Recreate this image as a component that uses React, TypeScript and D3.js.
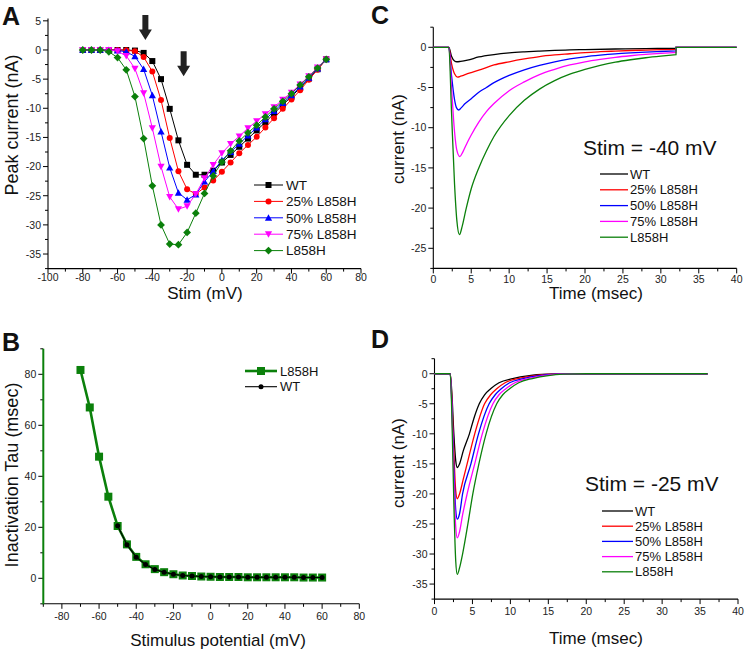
import React from 'react';
import * as d3 from 'd3';

const FONT = "'Liberation Sans', Arial, Helvetica, sans-serif";

// ---------- shared series info ----------
const seriesNames = ['WT', '25% L858H', '50% L858H', '75% L858H', 'L858H'];
const seriesColors = ['#000000', '#ff0000', '#0000ff', '#ff00ff', '#0b800b'];
const markerShapes = ['square', 'circle', 'triangle', 'triangleDown', 'diamond'];

// ---------- Panel A : peak current vs stim ----------
const stimA = [-80, -75, -70, -65, -60, -55, -50, -45, -40, -35, -30, -25, -20, -15, -10, -5, 0, 5, 10, 15, 20, 25, 30, 35, 40, 45, 50, 55, 60];
const peakWT = [0, 0, 0, 0, 0, 0, -0.1, -0.5, -1.9, -5.0, -10.1, -15.5, -19.7, -21.4, -21.4, -20.7, -19.3, -18.0, -16.6, -15.2, -13.8, -12.4, -10.9, -9.4, -8.0, -6.5, -4.9, -3.3, -1.6];
const peak25 = [0, 0, 0, 0, 0, -0.05, -0.2, -1.2, -3.7, -8.6, -15.1, -20.8, -23.9, -24.7, -23.6, -22.4, -20.9, -19.3, -17.7, -16.3, -14.9, -13.3, -11.7, -10.1, -8.5, -6.9, -5.1, -3.4, -1.6];
const peak50 = [0, 0, 0, 0, -0.1, -0.3, -1.1, -3.3, -7.8, -14.0, -20.2, -24.5, -25.7, -24.8, -22.6, -20.8, -18.9, -17.5, -16.1, -14.7, -13.3, -11.9, -10.5, -9.1, -7.8, -6.3, -4.8, -3.2, -1.6];
const peak75 = [0, 0, 0, 0, -0.2, -1.0, -3.2, -7.4, -13.4, -20.0, -25.2, -27.3, -26.8, -24.7, -22.0, -19.7, -17.7, -16.1, -14.8, -13.4, -12.2, -11.0, -9.8, -8.5, -7.3, -5.9, -4.5, -3.0, -1.6];
const peakL858H = [0, 0, 0, -0.3, -1.3, -3.4, -8.0, -15.2, -23.3, -30.0, -33.3, -33.4, -31.3, -28.0, -24.6, -21.6, -19.2, -17.3, -15.6, -14.2, -12.9, -11.5, -10.1, -8.8, -7.5, -6.0, -4.6, -3.1, -1.6];
const xTicksA = [-100, -80, -60, -40, -20, 0, 20, 40, 60, 80];
const xMinorA = [-90, -70, -50, -30, -10, 10, 30, 50, 70];
const yTicksA = [5, 0, -5, -10, -15, -20, -25, -30, -35];
const yMinorA = [2.5, -2.5, -7.5, -12.5, -17.5, -22.5, -27.5, -32.5, -37.5];
const arrowStim = [-44, -22];
const arrowTip = [1.7, -4.5];

// ---------- Panel B : inactivation tau ----------
const stimB_L858H = [-70, -65, -60, -55, -50, -45, -40, -35, -30, -25, -20, -15, -10, -5, 0, 5, 10, 15, 20, 25, 30, 35, 40, 45, 50, 55, 60];
const tauL858H = [81.7, 67.0, 47.7, 32.0, 20.5, 13.3, 8.4, 5.5, 3.6, 2.4, 1.6, 1.1, 0.9, 0.7, 0.6, 0.5, 0.5, 0.5, 0.4, 0.4, 0.4, 0.4, 0.4, 0.4, 0.3, 0.3, 0.3];
const stimB_WT = [-50, -45, -40, -35, -30, -25, -20, -15, -10, -5, 0, 5, 10, 15, 20, 25, 30, 35, 40, 45, 50, 55, 60];
const tauWT = [20.6, 13.2, 8.3, 5.4, 3.5, 2.4, 1.6, 1.1, 0.9, 0.7, 0.6, 0.5, 0.5, 0.5, 0.4, 0.4, 0.4, 0.4, 0.4, 0.4, 0.3, 0.3, 0.3];
const xTicksB = [-80, -60, -40, -20, 0, 20, 40, 60, 80];
const xMinorB = [-90, -70, -50, -30, -10, 10, 30, 50, 70];
const yTicksB = [0, 20, 40, 60, 80];
const yMinorB = [-10, 10, 30, 50, 70, 90];

// ---------- Panel C : traces at -40 mV ([time ms, current nA]) ----------
const traceC_WT: [number, number][] = [[0, 0], [2.05, 0], [2.4, -1.1], [2.8, -1.7], [3.1, -1.8], [3.6, -1.75], [4.5, -1.6], [6, -1.2], [8, -0.9], [10, -0.7], [12, -0.57], [14, -0.47], [16, -0.39], [18, -0.33], [20, -0.28], [24, -0.21], [28, -0.16], [32, -0.13]];
const traceC_25: [number, number][] = [[0, 0], [2.05, 0], [2.4, -2.0], [2.8, -3.3], [3.2, -3.7], [3.6, -3.6], [4.2, -3.4], [5, -3.15], [6, -2.85], [8, -2.2], [10, -1.8], [12, -1.45], [14, -1.15], [16, -0.95], [18, -0.8], [20, -0.65], [22, -0.55], [24, -0.47], [26, -0.4], [28, -0.35], [30, -0.3], [32, -0.27]];
const traceC_50: [number, number][] = [[0, 0], [2.05, 0], [2.4, -3.5], [2.8, -6.5], [3.05, -7.5], [3.35, -7.8], [3.7, -7.5], [4.2, -7.0], [5, -6.4], [6, -5.6], [7, -5.0], [8, -4.4], [10, -3.5], [12, -2.8], [14, -2.25], [16, -1.8], [18, -1.45], [20, -1.18], [22, -0.98], [24, -0.82], [26, -0.7], [28, -0.6], [30, -0.52], [32, -0.45]];
const traceC_75: [number, number][] = [[0, 0], [2.05, 0], [2.4, -5], [2.8, -10.5], [3.1, -12.8], [3.5, -13.6], [3.9, -13.0], [4.5, -11.8], [5, -10.9], [6, -9.3], [7, -8.0], [8, -7.0], [10, -5.4], [12, -4.3], [14, -3.4], [16, -2.75], [18, -2.2], [20, -1.8], [22, -1.5], [24, -1.25], [26, -1.05], [28, -0.88], [30, -0.75], [32, -0.65]];
const traceC_L: [number, number][] = [[0, 0], [2.05, 0], [2.4, -8], [2.8, -17], [3.1, -21.5], [3.45, -23.3], [3.8, -22.3], [4.3, -20.2], [5, -17.6], [6, -15.0], [7, -12.9], [8, -11.1], [10, -8.5], [12, -6.6], [14, -5.2], [16, -4.15], [18, -3.35], [20, -2.75], [22, -2.25], [24, -1.85], [26, -1.55], [28, -1.3], [30, -1.1], [32, -0.93]];
const pulseEndC = 32;
const traceEndC = 40;
const stimLabelC = 'Stim = -40 mV';

// ---------- Panel D : traces at -25 mV ----------
const traceD_WT: [number, number][] = [[0, 0], [2.07, 0], [2.3, -3.5], [2.55, -10], [2.8, -14.5], [3.0, -15.6], [3.3, -15.0], [3.8, -12.8], [4.6, -10], [5.2, -7.4], [5.9, -5], [6.6, -3.5], [7.4, -2.5], [8.5, -1.5], [10.3, -0.8], [12.5, -0.3], [15, -0.08], [18, 0], [36, 0]];
const traceD_25: [number, number][] = [[0, 0], [2.07, 0], [2.3, -4.5], [2.55, -13], [2.8, -19.5], [3.0, -20.8], [3.3, -20.0], [3.8, -17.5], [4.3, -15], [5.3, -10], [6.6, -5], [7.4, -3.5], [8.2, -2.5], [9.3, -1.5], [11, -0.8], [13.2, -0.3], [15.5, -0.08], [18.5, 0], [36, 0]];
const traceD_50: [number, number][] = [[0, 0], [2.07, 0], [2.3, -5.5], [2.55, -15.5], [2.8, -22.7], [3.0, -24.2], [3.3, -23.3], [3.7, -20.0], [4.8, -15], [5.8, -10], [7.2, -5], [8.0, -3.5], [8.8, -2.5], [9.9, -1.5], [11.7, -0.8], [13.8, -0.3], [16, -0.08], [19, 0], [36, 0]];
const traceD_75: [number, number][] = [[0, 0], [2.07, 0], [2.3, -6], [2.55, -17.5], [2.8, -25.5], [3.0, -27.3], [3.3, -26.3], [3.7, -23.5], [4.3, -20], [5.3, -15], [6.3, -10], [7.7, -5], [8.5, -3.5], [9.4, -2.5], [10.6, -1.5], [12.3, -0.8], [14.4, -0.3], [16.5, -0.08], [19.5, 0], [36, 0]];
const traceD_L: [number, number][] = [[0, 0], [2.07, 0], [2.3, -7.5], [2.55, -21.5], [2.8, -31.2], [3.0, -33.4], [3.3, -32.3], [3.7, -30], [4.4, -25], [5.05, -20], [5.85, -15], [6.8, -10], [8.2, -5], [9.0, -3.5], [9.9, -2.5], [11.1, -1.5], [12.9, -0.8], [15, -0.3], [17, -0.08], [20, 0], [36, 0]];
const stimLabelD = 'Stim = -25 mV';

const xTicksT = [0, 5, 10, 15, 20, 25, 30, 35, 40];
const xMinorT = [2.5, 7.5, 12.5, 17.5, 22.5, 27.5, 32.5, 37.5];
const yTicksC = [0, -5, -10, -15, -20, -25];
const yMinorC = [2.5, -2.5, -7.5, -12.5, -17.5, -22.5, -27.5];
const yTicksD = [0, -5, -10, -15, -20, -25, -30, -35];
const yMinorD = [2.5, -2.5, -7.5, -12.5, -17.5, -22.5, -27.5, -32.5, -37.5];

// ---------- helpers ----------
function markerPath(shape: string, r: number): string {
  switch (shape) {
    case 'square':
      return `M${-r},${-r}h${2 * r}v${2 * r}h${-2 * r}Z`;
    case 'circle':
      return `M${r},0A${r},${r} 0 1,1 ${-r},0A${r},${r} 0 1,1 ${r},0Z`;
    case 'triangle': {
      const h = r * 1.2;
      return `M0,${-h}L${h},${h * 0.8}L${-h},${h * 0.8}Z`;
    }
    case 'triangleDown': {
      const h = r * 1.2;
      return `M0,${h}L${h},${-h * 0.8}L${-h},${-h * 0.8}Z`;
    }
    case 'diamond': {
      const h = r * 1.3;
      return `M0,${-h}L${h},0L0,${h}L${-h},0Z`;
    }
    default:
      return '';
  }
}

type Lin = d3.ScaleLinear<number, number>;

function Axes(props: {
  x: Lin; y: Lin; xMajor: number[]; xMinor: number[]; yMajor: number[]; yMinor: number[];
  xLabelOffset: number; yAxisColor?: string; yAxisWidth?: number;
}) {
  const { x, y, xMajor, xMinor, yMajor, yMinor, xLabelOffset } = props;
  const [x0, x1] = x.range();
  const [y0, y1] = y.range();
  const major = 5, minor = 3;
  return (
    <g fontFamily={FONT} fontSize={10.5} fill="#222">
      {xMajor.map((v) => (
        <g key={'xM' + v}>
          <line x1={x(v)} x2={x(v)} y1={y0} y2={y0 + major} stroke="#000" strokeWidth={1} />
          <text x={x(v)} y={y0 + xLabelOffset} textAnchor="middle">{v}</text>
        </g>
      ))}
      {xMinor.map((v) => (
        <line key={'xm' + v} x1={x(v)} x2={x(v)} y1={y0} y2={y0 + minor} stroke="#000" strokeWidth={1} />
      ))}
      {yMajor.map((v) => (
        <g key={'yM' + v}>
          <line x1={x0 - major} x2={x0} y1={y(v)} y2={y(v)} stroke="#000" strokeWidth={1} />
          <text x={x0 - 7} y={y(v)} dy="0.36em" textAnchor="end">{v}</text>
        </g>
      ))}
      {yMinor.map((v) => (
        <line key={'ym' + v} x1={x0 - minor} x2={x0} y1={y(v)} y2={y(v)} stroke="#000" strokeWidth={1} />
      ))}
      <line x1={x0} x2={x1} y1={y0} y2={y0} stroke="#000" strokeWidth={1.1} />
      <line x1={x0} x2={x0} y1={y0 + 0.5} y2={y1} stroke={props.yAxisColor || '#000'} strokeWidth={props.yAxisWidth || 1.1} />
    </g>
  );
}

function PanelLetter({ x, y, t }: { x: number; y: number; t: string }) {
  return <text x={x} y={y} fontFamily={FONT} fontWeight="bold" fontSize={25} fill="#111">{t}</text>;
}

// ---------- Panel A ----------
function PanelA() {
  const x = d3.scaleLinear().domain([-100, 80]).range([48, 361]);
  const y = d3.scaleLinear().domain([-37.5, 5.4]).range([268.6, 18.5]);
  const allSeries = [peakWT, peak25, peak50, peak75, peakL858H];
  const line = d3.line<number>().x((_, i) => x(stimA[i])).y((d) => y(d));
  const legX0 = 254, legX1 = 283, legY0 = 185, legDY = 16.4;
  return (
    <g>
      <Axes x={x} y={y} xMajor={xTicksA} xMinor={xMinorA} yMajor={yTicksA} yMinor={yMinorA} xLabelOffset={12.5} />
      {allSeries.map((s, k) => (
        <g key={k}>
          <path d={line(s) || ''} fill="none" stroke={seriesColors[k]} strokeWidth={1} />
          {s.map((v, i) => (
            <path key={i} transform={`translate(${x(stimA[i])},${y(v)})`} d={markerPath(markerShapes[k], 3)} fill={seriesColors[k]} />
          ))}
        </g>
      ))}
      {arrowStim.map((s, i) => {
        const cx = x(s), ty = y(arrowTip[i]);
        return (
          <path key={i} d={`M${cx - 3},${ty - 25}L${cx + 3},${ty - 25}L${cx + 3},${ty - 10.5}L${cx + 6.5},${ty - 10.5}L${cx},${ty}L${cx - 6.5},${ty - 10.5}L${cx - 3},${ty - 10.5}Z`} fill="#222" />
        );
      })}
      <g fontFamily={FONT} fontSize={13.5} fill="#111">
        {seriesNames.map((n, k) => (
          <g key={n}>
            <line x1={legX0} x2={legX1} y1={legY0 + k * legDY} y2={legY0 + k * legDY} stroke={seriesColors[k]} strokeWidth={1} />
            <path transform={`translate(${(legX0 + legX1) / 2},${legY0 + k * legDY})`} d={markerPath(markerShapes[k], 3)} fill={seriesColors[k]} />
            <text x={legX1 + 3} y={legY0 + k * legDY} dy="0.36em">{n}</text>
          </g>
        ))}
      </g>
      <text x={205} y={299} textAnchor="middle" fontFamily={FONT} fontSize={17} fill="#111">Stim (mV)</text>
      <text transform="translate(17.5,125) rotate(-90)" textAnchor="middle" fontFamily={FONT} fontSize={18} fill="#111">Peak current (nA)</text>
      <PanelLetter x={2} y={25} t="A" />
    </g>
  );
}

// ---------- Panel B ----------
function PanelB() {
  const x = d3.scaleLinear().domain([-90, 80]).range([43.3, 359.3]);
  const y = d3.scaleLinear().domain([-10, 90]).range([603.8, 348.8]);
  const green = seriesColors[4];
  const lineL = d3.line<number>().x((_, i) => x(stimB_L858H[i])).y((d) => y(d));
  const lineW = d3.line<number>().x((_, i) => x(stimB_WT[i])).y((d) => y(d));
  return (
    <g>
      <Axes x={x} y={y} xMajor={xTicksB} xMinor={xMinorB} yMajor={yTicksB} yMinor={yMinorB} xLabelOffset={16.5} yAxisColor={green} yAxisWidth={2} />
      <path d={lineL(tauL858H) || ''} fill="none" stroke={green} strokeWidth={2.6} />
      {tauL858H.map((v, i) => (
        <path key={i} transform={`translate(${x(stimB_L858H[i])},${y(v)})`} d={markerPath('square', 4)} fill={green} />
      ))}
      <path d={lineW(tauWT) || ''} fill="none" stroke="#000" strokeWidth={1.1} />
      {tauWT.map((v, i) => (
        <path key={i} transform={`translate(${x(stimB_WT[i])},${y(v)})`} d={markerPath('circle', 2.5)} fill="#000" />
      ))}
      <g fontFamily={FONT} fontSize={13} fill="#111">
        <line x1={245} x2={277} y1={371} y2={371} stroke={green} strokeWidth={2.6} />
        <path transform="translate(261,371)" d={markerPath('square', 4)} fill={green} />
        <text x={280} y={371} dy="0.36em">L858H</text>
        <line x1={245} x2={277} y1={386.7} y2={386.7} stroke="#000" strokeWidth={1.1} />
        <path transform="translate(261,386.7)" d={markerPath('circle', 2.5)} fill="#000" />
        <text x={280} y={386.7} dy="0.36em">WT</text>
      </g>
      <text x={218} y={646} textAnchor="middle" fontFamily={FONT} fontSize={17} fill="#111">Stimulus potential (mV)</text>
      <text transform="translate(18,475) rotate(-90)" textAnchor="middle" fontFamily={FONT} fontSize={18} fill="#111">Inactivation Tau (msec)</text>
      <PanelLetter x={2} y={351} t="B" />
    </g>
  );
}

// ---------- Panels C / D ----------
function TracePanel(props: {
  xr: [number, number]; yd: [number, number]; yr: [number, number];
  traces: [number, number][][]; yMajor: number[]; yMinor: number[]; pulseEnd?: number; traceEnd?: number;
  xLabelOffset: number; stimLabel: string; stimPos: [number, number]; legend: { x0: number; x1: number; y0: number; dy: number };
  yTitleY: number; xTitleY: number; letter: string; letterY: number;
}) {
  const x = d3.scaleLinear().domain([0, 40]).range(props.xr);
  const y = d3.scaleLinear().domain(props.yd).range(props.yr);
  const line = d3.line<[number, number]>().x((d) => x(d[0])).y((d) => y(d[1])).curve(d3.curveMonotoneX);
  const lg = props.legend;
  return (
    <g>
      <Axes x={x} y={y} xMajor={xTicksT} xMinor={xMinorT} yMajor={props.yMajor} yMinor={props.yMinor} xLabelOffset={props.xLabelOffset} />
      {props.traces.map((tr, k) => {
        let d = line(tr) || '';
        if (props.pulseEnd !== undefined && props.traceEnd !== undefined) {
          d += `L${x(props.pulseEnd)},${y(0)}L${x(props.traceEnd)},${y(0)}`;
        }
        return <path key={k} d={d} fill="none" stroke={seriesColors[k]} strokeWidth={1.3} />;
      })}
      <text x={props.stimPos[0]} y={props.stimPos[1]} fontFamily={FONT} fontSize={21} fill="#111">{props.stimLabel}</text>
      <g fontFamily={FONT} fontSize={13} fill="#111">
        {seriesNames.map((n, k) => (
          <g key={n}>
            <line x1={lg.x0} x2={lg.x1} y1={lg.y0 + k * lg.dy} y2={lg.y0 + k * lg.dy} stroke={seriesColors[k]} strokeWidth={1.3} />
            <text x={lg.x1 + 2} y={lg.y0 + k * lg.dy} dy="0.36em">{n}</text>
          </g>
        ))}
      </g>
      <text x={596} y={props.xTitleY} textAnchor="middle" fontFamily={FONT} fontSize={17} fill="#111">Time (msec)</text>
      <text transform={`translate(404,${props.yTitleY}) rotate(-90)`} textAnchor="middle" fontFamily={FONT} fontSize={17} fill="#111">current (nA)</text>
      <PanelLetter x={371} y={props.letterY} t={props.letter} />
    </g>
  );
}

export default function App() {
  return (
    <svg width={745} height={650} viewBox="0 0 745 650" style={{ position: 'absolute', left: 0, top: 0, background: '#fff' }}>
      <rect width={745} height={650} fill="#fff" />
      <PanelA />
      <PanelB />
      <TracePanel
        xr={[433.3, 736.7]} yd={[-27.5, 2.5]} yr={[268.4, 27.2]}
        traces={[traceC_WT, traceC_25, traceC_50, traceC_75, traceC_L]}
        yMajor={yTicksC} yMinor={yMinorC} pulseEnd={pulseEndC} traceEnd={traceEndC}
        xLabelOffset={15} stimLabel={stimLabelC} stimPos={[583, 155]}
        legend={{ x0: 600, x1: 628, y0: 174, dy: 15.8 }}
        yTitleY={139} xTitleY={299} letter="C" letterY={23.5}
      />
      <TracePanel
        xr={[434.5, 738]} yd={[-37.5, 2.5]} yr={[599.1, 358.7]}
        traces={[traceD_WT, traceD_25, traceD_50, traceD_75, traceD_L]}
        yMajor={yTicksD} yMinor={yMinorD}
        xLabelOffset={16} stimLabel={stimLabelD} stimPos={[585, 491]}
        legend={{ x0: 602, x1: 633, y0: 511, dy: 15.2 }}
        yTitleY={463} xTitleY={644} letter="D" letterY={348}
      />
    </svg>
  );
}
